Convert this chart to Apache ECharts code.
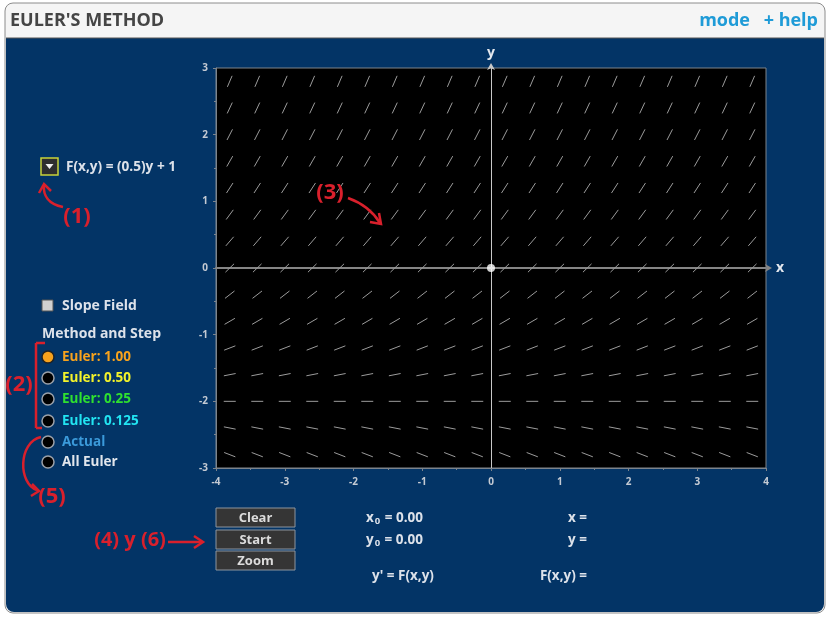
<!DOCTYPE html>
<html>
<head>
<meta charset="utf-8">
<title>Euler's Method</title>
<script src="https://cdn.jsdelivr.net/npm/echarts@6.0.0/dist/echarts.min.js"></script>
<style>
  html, body { margin: 0; padding: 0; background: #fff; }
  #chart { width: 829px; height: 619px; }
</style>
</head>
<body>
<div id="chart"></div>
<script>
// slope field sample points
const xCols = [-3.8, -3.4, -3.0, -2.6, -2.2, -1.8, -1.4, -1.0, -0.6, -0.2,
               0.2, 0.6, 1.0, 1.4, 1.8, 2.2, 2.6, 3.0, 3.4, 3.8];
const yRows = [-2.8, -2.4, -2.0, -1.6, -1.2, -0.8, -0.4, 0.0,
               0.4, 0.8, 1.2, 1.6, 2.0, 2.4, 2.8];
// slope of each row, bottom to top (F depends on y only)
const rowSlopes = [-0.4, -0.2, 0.0, 0.2, 0.4, 0.6, 0.8, 1.0,
                   1.2, 1.4, 1.6, 1.8, 2.0, 2.2, 2.4];
const startPoint = [0, 0];
const xRange = [-4, 4];
const yRange = [-3, 3];

const methodLabels = ['Euler: 1.00', 'Euler: 0.50', 'Euler: 0.25', 'Euler: 0.125', 'Actual', 'All Euler'];
const methodColors = ['#f7a21d', '#f2f22a', '#2fe02f', '#22e4f2', '#3b9ada', '#e2e6ec'];
const buttonLabels = ['Clear', 'Start', 'Zoom'];

const fieldData = [];
yRows.forEach((y, i) => {
  xCols.forEach((x) => {
    fieldData.push([x, y, rowSlopes[i]]);
  });
});

const FONT = '"Open Sans", "DejaVu Sans", sans-serif';
const RED = '#d9202c';
const LIGHT = '#dde2ea';
const SEG = 12;

function txt(x, y, text, size, color, align, extra) {
  return Object.assign({
    type: 'text', x: x, y: y, z: 10,
    style: {
      text: text, fill: color, font: 'bold ' + size + 'px ' + FONT,
      align: align || 'left', verticalAlign: 'middle',
    },
  }, extra || {});
}

function line(x1, y1, x2, y2, color, w) {
  return { type: 'line', z: 10, shape: { x1, y1, x2, y2 }, style: { stroke: color, lineWidth: w || 2.5 } };
}

function arrowHead(points, color) {
  return { type: 'polyline', z: 10, shape: { points }, style: { stroke: color, lineWidth: 2.5, fill: null } };
}

const graphics = [
  // outer frame and title bar
  { type: 'rect', z: -10, shape: { x: 5, y: 3, width: 820, height: 610, r: 8 },
    style: { fill: '#f5f5f5', stroke: '#8c8c8c', lineWidth: 1 } },
  { type: 'rect', z: -9, shape: { x: 6, y: 38, width: 818, height: 574, r: [0, 0, 8, 8] },
    style: { fill: '#033466' } },
  line(6, 38, 824, 38, '#555', 1),
  txt(10, 21, "EULER'S METHOD", 18, '#454545'),
  txt(750, 21, 'mode', 18, '#1f9bd7', 'right'),
  txt(818, 21, '+ help', 18, '#1f9bd7', 'right'),

  // function dropdown
  { type: 'rect', z: 10, shape: { x: 41, y: 158, width: 17, height: 17 },
    style: { fill: '#2e2e2e', stroke: '#c9d23a', lineWidth: 1.5 } },
  { type: 'polygon', z: 11, shape: { points: [[45.5, 164], [53.5, 164], [49.5, 169]] },
    style: { fill: '#f0f0f0' } },
  txt(66, 167, 'F(x,y) = (0.5)y + 1', 13.6, LIGHT),

  // slope field checkbox
  { type: 'rect', z: 10, shape: { x: 42, y: 300, width: 11, height: 11 },
    style: { fill: '#d0d0d0', stroke: '#555', lineWidth: 1 } },
  txt(62, 306, 'Slope Field', 14, LIGHT),
  txt(42, 334, 'Method and Step', 14, LIGHT),
];

const radioY = [357, 378, 399, 421, 442, 462];
methodLabels.forEach((label, i) => {
  graphics.push({
    type: 'circle', z: 10, shape: { cx: 48, cy: radioY[i], r: 6 },
    style: { fill: i === 0 ? '#f7a21d' : '#000', stroke: i === 0 ? '#222' : '#9aa0a8', lineWidth: 1.5 },
  });
  graphics.push(txt(62, radioY[i], label, 13.5, methodColors[i]));
});

const buttonTop = [508, 530, 551];
buttonLabels.forEach((label, i) => {
  graphics.push({
    type: 'rect', z: 10, shape: { x: 216, y: buttonTop[i], width: 79, height: 19 },
    style: { fill: '#353535', stroke: '#8e959e', lineWidth: 1 },
  });
  graphics.push(txt(255.5, buttonTop[i] + 10, label, 13, '#dcdcdc', 'center'));
});

const sub = {
  a: { fontSize: 13.5, fontWeight: 'bold', fontFamily: FONT, fill: LIGHT },
  s: { fontSize: 9.5, fontWeight: 'bold', fontFamily: FONT, fill: LIGHT, padding: [7, 1, 0, 1] },
};
graphics.push(
  { type: 'text', x: 366, y: 518, z: 10,
    style: { text: '{a|x}{s|0}{a| = 0.00}', rich: sub, verticalAlign: 'middle' } },
  { type: 'text', x: 366, y: 540, z: 10,
    style: { text: '{a|y}{s|0}{a| = 0.00}', rich: sub, verticalAlign: 'middle' } },
  txt(372, 576, "y' = F(x,y)", 13.5, LIGHT),
  txt(587, 518, 'x =', 13.5, LIGHT, 'right'),
  txt(587, 540, 'y =', 13.5, LIGHT, 'right'),
  txt(587, 576, 'F(x,y) =', 13.5, LIGHT, 'right'),

  // red annotations
  txt(77, 217, '(1)', 22, RED, 'center'),
  { type: 'bezierCurve', z: 10, shape: { x1: 63, y1: 207, x2: 44, y2: 185, cpx1: 48, cpy1: 204, cpx2: 43, cpy2: 195 },
    style: { stroke: RED, lineWidth: 2.5, fill: null } },
  arrowHead([[39, 193], [44, 184], [51, 191]], RED),

  line(36, 343, 36, 428, RED),
  line(36, 343, 45, 343, RED),
  line(36, 428, 42, 428, RED),
  txt(19, 385, '(2)', 22, RED, 'center'),

  txt(330, 193, '(3)', 22, RED, 'center'),
  { type: 'bezierCurve', z: 10, shape: { x1: 348, y1: 198, x2: 380, y2: 223, cpx1: 362, cpy1: 203, cpx2: 372, cpy2: 210 },
    style: { stroke: RED, lineWidth: 2.5, fill: null } },
  arrowHead([[370, 222], [381, 224], [379, 213]], RED),

  txt(130, 540, '(4) y (6)', 20, RED, 'center'),
  line(168, 542, 202, 542, RED),
  arrowHead([[194, 536], [203, 542], [194, 548]], RED),

  { type: 'bezierCurve', z: 10, shape: { x1: 41, y1: 437, x2: 37, y2: 490, cpx1: 18, cpy1: 442, cpx2: 18, cpy2: 484 },
    style: { stroke: RED, lineWidth: 2.5, fill: null } },
  arrowHead([[32, 484], [39, 491], [31, 496]], RED),
  txt(52, 497, '(5)', 22, RED, 'center')
);

const chart = echarts.init(document.getElementById('chart'));

const axisLabelStyle = { color: '#c4cad3', fontSize: 10, fontWeight: 'bold', fontFamily: FONT };

const option = {
  animation: false,
  backgroundColor: '#ffffff',
  grid: {
    left: 216, top: 68, width: 550, height: 400,
    show: true, backgroundColor: '#000', borderColor: '#7d848c', borderWidth: 1,
  },
  xAxis: [
    {
      type: 'value', min: xRange[0], max: xRange[1], interval: 1, position: 'bottom',
      axisLine: { onZero: false, lineStyle: { color: '#7d848c' } },
      axisTick: { length: 3, lineStyle: { color: '#7d848c' } },
      minorTick: { show: true, splitNumber: 2, length: 2, lineStyle: { color: '#7d848c' } },
      splitLine: { show: false },
      axisLabel: Object.assign({ margin: 9 }, axisLabelStyle),
    },
    {
      type: 'value', min: xRange[0], max: xRange[1],
      axisLine: { onZero: true, symbol: ['none', 'arrow'], symbolSize: [6, 7], symbolOffset: [0, 6],
        lineStyle: { color: '#858585', width: 2 } },
      axisTick: { show: false }, axisLabel: { show: false }, splitLine: { show: false },
      name: 'x', nameLocation: 'end', nameGap: 10,
      nameTextStyle: { color: '#e4e8ee', fontSize: 14, fontWeight: 'bold', fontFamily: FONT },
    },
  ],
  yAxis: [
    {
      type: 'value', min: yRange[0], max: yRange[1], interval: 1, position: 'left',
      axisLine: { onZero: false, lineStyle: { color: '#7d848c' } },
      axisTick: { length: 3, lineStyle: { color: '#7d848c' } },
      minorTick: { show: true, splitNumber: 2, length: 2, lineStyle: { color: '#7d848c' } },
      splitLine: { show: false },
      axisLabel: Object.assign({ margin: 8 }, axisLabelStyle),
    },
    {
      type: 'value', min: yRange[0], max: yRange[1],
      axisLine: { onZero: true, symbol: ['none', 'arrow'], symbolSize: [6, 7], symbolOffset: [0, 5],
        lineStyle: { color: '#c8c8c8', width: 1 } },
      axisTick: { show: false }, axisLabel: { show: false }, splitLine: { show: false },
      name: 'y', nameLocation: 'end', nameGap: 8,
      nameTextStyle: { color: '#e4e8ee', fontSize: 14, fontWeight: 'bold', fontFamily: FONT },
    },
  ],
  series: [
    {
      name: 'slope field',
      type: 'custom',
      data: fieldData,
      renderItem(params, api) {
        const c = api.coord([api.value(0), api.value(1)]);
        const u = api.size([1, 1]);
        let dx = u[0];
        let dy = -api.value(2) * u[1];
        const n = Math.sqrt(dx * dx + dy * dy);
        dx = (dx / n) * SEG / 2;
        dy = (dy / n) * SEG / 2;
        return {
          type: 'line',
          shape: { x1: c[0] - dx, y1: c[1] - dy, x2: c[0] + dx, y2: c[1] + dy },
          style: { stroke: '#9c9c9c', lineWidth: 1 },
        };
      },
      silent: true,
    },
    {
      name: 'start',
      type: 'scatter',
      data: [startPoint],
      symbolSize: 8,
      itemStyle: { color: '#ffffff' },
      z: 5,
    },
  ],
  graphic: graphics,
};

chart.setOption(option);
</script>
</body>
</html>
